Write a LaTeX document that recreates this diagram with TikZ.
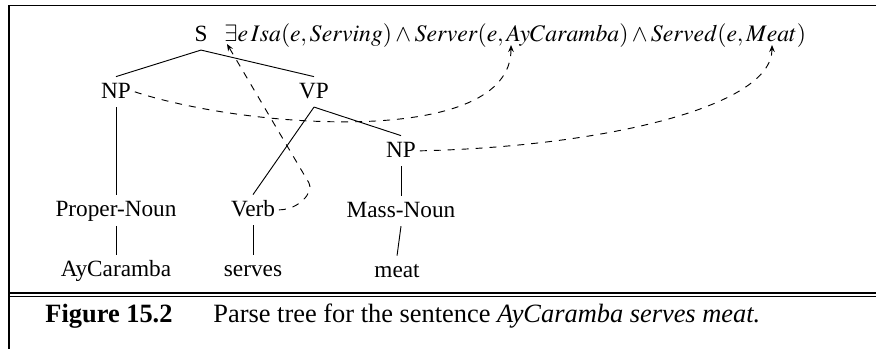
\documentclass[tikz,border=0pt]{standalone}
\usepackage{mathptmx}
\usepackage[no-math]{fontspec}
\setmainfont{Liberation Serif}
\usetikzlibrary{arrows.meta,positioning}
\tikzset{
  >={Stealth[length=3pt,width=2.4pt]},
  cat/.style={inner sep=1.5pt, text height=0.75em, text depth=0.22em, anchor=base},
  link/.style={dashed, ->},
  rule/.style={line width=0.75pt},
  captext/.style={anchor=base west, inner sep=0pt, font=\fontsize{11.35}{13}\selectfont},
}
\begin{document}
\begin{tikzpicture}[x=0.43pt, y=-0.43pt, node distance=12.7pt]
  \useasboundingbox (0,0) rectangle (877,349);
  \draw[rule] (876,5.5) -- (9,5.5) -- (9,349);
  \draw[rule] (9,293) -- (876,293);
  \draw[rule] (9,296.5) -- (876,296.5);

  \node[cat] (s) at (201,41) {S};
  \node[anchor=base west, inner sep=0pt, font=\fontsize{10.2}{12}\selectfont] (lf) at (224,41)
    {$\exists e\,Isa(e,Serving)\wedge Server(e,AyCaramba)\wedge Served(e,Meat)$};
  \node[cat] (np1) at (116,98) {NP};
  \node[cat] (vp) at (314,98) {VP};
  \node[cat] (np2) at (401,157) {NP};
  \node[cat, below=38pt of np1] (pn) {Proper-Noun};
  \node[cat] (verb) at (253,216) {Verb};
  \node[cat, below=of np2] (mn) {Mass-Noun};
  \node[cat, below=of pn] (ay) {AyCaramba};
  \node[cat, below=of verb] (serves) {serves};
  \node[cat, below=of mn, xshift=-1.7pt] (meat) {meat};

  \coordinate (tEx) at (227,44);
  \coordinate (tAy) at (511,45);
  \coordinate (tMeat) at (772,45);

  \draw (s.south) -- (np1.north);
  \draw (s.south) -- (vp.north);
  \draw (np1.south) -- (pn.north);
  \draw (vp.south) -- (verb.north);
  \draw (vp.south) -- (np2.north);
  \draw (np2.south) -- (mn.north);
  \draw (pn.south) -- (ay.north);
  \draw (verb.south) -- (serves.north);
  \draw (mn.south) -- (meat.north);

  \draw[link] (np1.east) .. controls +(113,37) and +(0,103) .. (tAy);
  \draw[link] (np2.east) .. controls +(178,-4) and +(0,63) .. (tMeat);
  \draw[link] (verb.east) .. controls +(20,0) and +(5,9) .. (309,183) -- (tEx);

  \node[captext, font=\fontsize{11.35}{13}\selectfont\bfseries] (fig) at (45,322) {Figure 15.2};
  \node[captext] (cap) at (213,322) {Parse tree for the sentence \textit{AyCaramba serves meat.}};
\end{tikzpicture}
\end{document}
